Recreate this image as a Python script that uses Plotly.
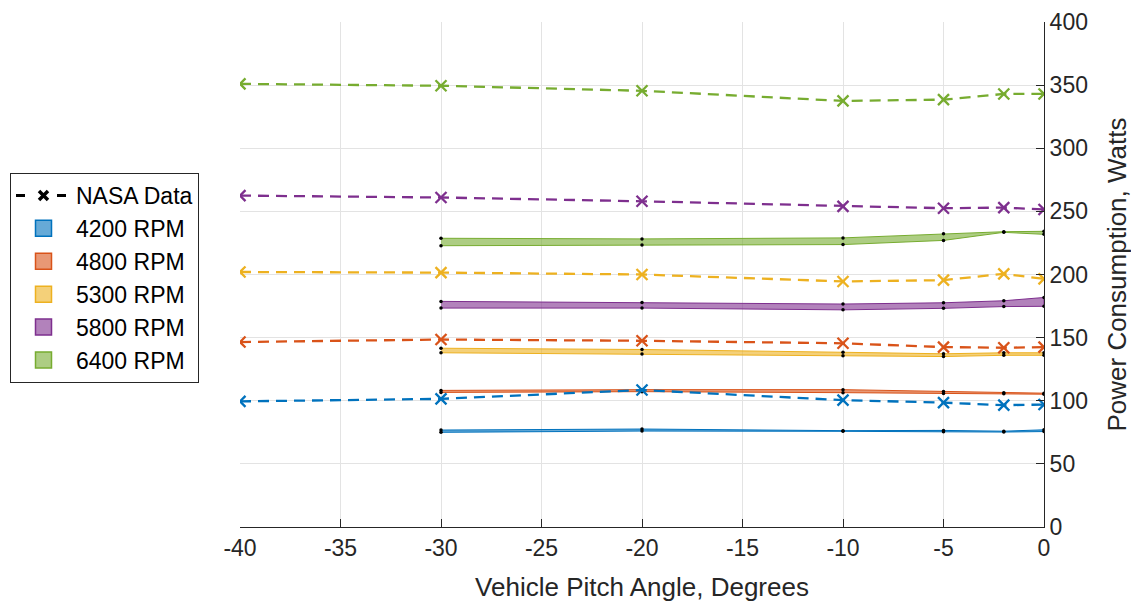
import plotly.graph_objects as go

# ---- data ----
pitch_nasa = [-40, -30, -20, -10, -5, -2, 0]
pitch_test = [-30, -20, -10, -5, -2, 0]

nasa_4200 = [99.5, 101.5, 108.5, 100.5, 98.5, 96.5, 97.0]
nasa_4800 = [146.5, 148.5, 147.5, 145.5, 142.5, 142.0, 142.5]
nasa_5300 = [202.0, 201.5, 200.0, 194.5, 195.5, 200.5, 196.5]
nasa_5800 = [262.5, 261.0, 258.0, 254.0, 252.5, 253.0, 251.5]
nasa_6400 = [351.0, 349.5, 345.5, 337.5, 338.5, 343.0, 343.0]

upper_4200 = [76.8, 77.6, 76.3, 76.5, 75.9, 77.0]
lower_4200 = [75.0, 76.0, 75.8, 75.4, 75.2, 75.6]
upper_4800 = [108.2, 108.8, 108.8, 107.3, 106.4, 106.0]
lower_4800 = [106.6, 107.2, 106.4, 105.8, 105.6, 105.2]
upper_5300 = [141.6, 140.6, 138.4, 137.2, 138.0, 138.0]
lower_5300 = [138.0, 137.0, 135.6, 135.0, 136.0, 136.0]
upper_5800 = [178.7, 177.9, 176.6, 177.6, 179.2, 181.8]
lower_5800 = [173.4, 173.4, 172.0, 173.2, 174.6, 174.8]
upper_6400 = [228.7, 228.2, 229.0, 232.3, 233.9, 234.2]
lower_6400 = [222.8, 223.4, 223.7, 227.0, 233.4, 231.8]

x_ticks = [-40, -35, -30, -25, -20, -15, -10, -5, 0]
x_tick_labels = ["-40", "-35", "-30", "-25", "-20", "-15", "-10", "-5", "0"]

rpm_labels = ["4200 RPM", "4800 RPM", "5300 RPM", "5800 RPM", "6400 RPM"]
colors = ["#0072BD", "#D95319", "#EDB120", "#7E2F8E", "#77AC30"]
fills = ["rgba(0,114,189,0.6)", "rgba(217,83,25,0.6)", "rgba(237,177,32,0.6)",
         "rgba(126,47,142,0.6)", "rgba(119,172,48,0.6)"]

nasa = [nasa_4200, nasa_4800, nasa_5300, nasa_5800, nasa_6400]
uppers = [upper_4200, upper_4800, upper_5300, upper_5800, upper_6400]
lowers = [lower_4200, lower_4800, lower_5300, lower_5800, lower_6400]

FONT = "Liberation Sans, Arial, Helvetica, sans-serif"
DASH = "11px,7px"

fig = go.Figure()

# legend-only entry for NASA data
fig.add_trace(go.Scatter(
    x=[None], y=[None], mode="lines+markers", name="NASA Data",
    line=dict(color="black", width=3, dash="9px,32px"),
    marker=dict(symbol="x-thin", size=9, color="black", line=dict(width=3.5, color="black")),
))

# legend-only patches
for lab, c, fc in zip(rpm_labels, colors, fills):
    fig.add_trace(go.Scatter(
        x=[None], y=[None], mode="markers", name=lab,
        marker=dict(symbol="square", size=16, color=fc, line=dict(color=c, width=1.5)),
    ))

# shaded bands
for lab, c, fc, up, lo in zip(rpm_labels, colors, fills, uppers, lowers):
    fig.add_trace(go.Scatter(
        x=pitch_test + pitch_test[::-1], y=up + lo[::-1],
        mode="lines", fill="toself", fillcolor=fc,
        line=dict(color=c, width=1), name=lab, showlegend=False,
    ))

for c, up, lo in zip(colors, uppers, lowers):
    fig.add_trace(go.Scatter(
        x=pitch_test + pitch_test, y=up + lo, mode="markers",
        marker=dict(color="black", size=3.5), showlegend=False, hoverinfo="skip",
    ))

for c, vals in zip(colors, nasa):
    fig.add_trace(go.Scatter(
        x=pitch_nasa, y=vals, mode="lines+markers", showlegend=False,
        line=dict(color=c, width=2.3, dash=DASH),
        marker=dict(symbol="x-thin", size=11, color=c, line=dict(width=2.3, color=c)),
    ))

# the page body adds an 8 px offset; margins compensate for it
fig.update_layout(
    width=1139, height=604,
    margin=dict(l=232, r=103, t=14, b=85),
    paper_bgcolor="white", plot_bgcolor="white",
    font=dict(family=FONT, size=23, color="#262626"),
    showlegend=True,
    legend=dict(
        xref="container", yref="container", x=2 / 1139, y=1 - 165 / 604,
        xanchor="left", yanchor="top",
        bordercolor="#262626", borderwidth=1, bgcolor="white",
        font=dict(family=FONT, size=23, color="black"),
        tracegroupgap=0, itemwidth=55,
    ),
)

fig.update_xaxes(
    range=[-40, 0], tickvals=x_ticks, ticktext=x_tick_labels,
    showgrid=True, gridcolor="#e3e3e3", gridwidth=1,
    showline=True, linecolor="#262626", linewidth=1,
    ticks="inside", ticklen=8, tickcolor="#262626",
    zeroline=False, automargin=False,
    title=dict(text="Vehicle Pitch Angle, Degrees", font=dict(size=26), standoff=18),
    tickfont=dict(size=23),
)
fig.update_yaxes(
    range=[0, 400], dtick=50, side="right",
    showgrid=True, gridcolor="#e3e3e3", gridwidth=1,
    showline=True, linecolor="#262626", linewidth=1,
    ticks="inside", ticklen=8, tickcolor="#262626",
    zeroline=False, automargin=False,
    title=dict(text="Power Consumption, Watts", font=dict(size=26), standoff=20),
    tickfont=dict(size=23),
)

fig.write_html("out.html")
